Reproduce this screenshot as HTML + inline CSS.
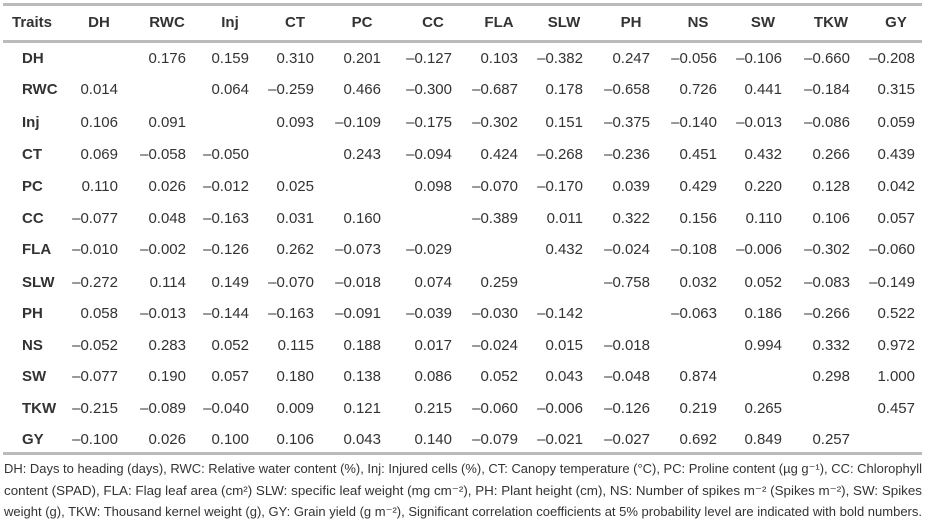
<!DOCTYPE html><html><head><meta charset="utf-8"><style>
html,body{margin:0;padding:0;background:#fff;width:927px;height:525px;overflow:hidden}
svg{display:block}
text{font-family:"Liberation Sans",Arial,sans-serif;fill:#333}
.h{font-weight:bold;font-size:15px;text-anchor:middle}
.r{font-weight:bold;font-size:15px}
.v{font-size:15px;text-anchor:end}
.f{font-size:13px}
</style></head><body>
<svg width="927" height="525" xmlns="http://www.w3.org/2000/svg">
<rect x="3" y="3" width="919" height="3" fill="#bbb"/>
<rect x="3" y="40" width="919" height="3" fill="#bbb"/>
<rect x="3" y="452" width="919" height="3" fill="#bbb"/>
<g id="t"></g>
<text class="f" x="4" y="473" textLength="918" lengthAdjust="spacingAndGlyphs">DH: Days to heading (days), RWC: Relative water content (%), Inj: Injured cells (%), CT: Canopy temperature (°C), PC: Proline content (µg g⁻¹), CC: Chlorophyll</text>
<text class="f" x="4" y="495" textLength="918" lengthAdjust="spacingAndGlyphs">content (SPAD), FLA: Flag leaf area (cm²) SLW: specific leaf weight (mg cm⁻²), PH: Plant height (cm), NS: Number of spikes m⁻² (Spikes m⁻²), SW: Spikes</text>
<text class="f" x="4" y="516" textLength="918" lengthAdjust="spacingAndGlyphs">weight (g), TKW: Thousand kernel weight (g), GY: Grain yield (g m⁻²), Significant correlation coefficients at 5% probability level are indicated with bold numbers.</text>
</svg>
<script>
var cols=["DH","RWC","Inj","CT","PC","CC","FLA","SLW","PH","NS","SW","TKW","GY"];
var R=[118,186,249,314,381,452,518,583,650,717,782,850,915];
var Y=[58,89,122,154,186,218,249,282,313,345,376,408,439];
var d=[
"",".176",".159",".310",".201","-.127",".103","-.382",".247","-.056","-.106","-.660","-.208",
".014","",".064","-.259",".466","-.300","-.687",".178","-.658",".726",".441","-.184",".315",
".106",".091","",".093","-.109","-.175","-.302",".151","-.375","-.140","-.013","-.086",".059",
".069","-.058","-.050","",".243","-.094",".424","-.268","-.236",".451",".432",".266",".439",
".110",".026","-.012",".025","",".098","-.070","-.170",".039",".429",".220",".128",".042",
"-.077",".048","-.163",".031",".160","","-.389",".011",".322",".156",".110",".106",".057",
"-.010","-.002","-.126",".262","-.073","-.029","",".432","-.024","-.108","-.006","-.302","-.060",
"-.272",".114",".149","-.070","-.018",".074",".259","","-.758",".032",".052","-.083","-.149",
".058","-.013","-.144","-.163","-.091","-.039","-.030","-.142","","-.063",".186","-.266",".522",
"-.052",".283",".052",".115",".188",".017","-.024",".015","-.018","",".994",".332",".972",
"-.077",".190",".057",".180",".138",".086",".052",".043","-.048",".874","",".298","1.000",
"-.215","-.089","-.040",".009",".121",".215","-.060","-.006","-.126",".219",".265","",".457",
"-.100",".026",".100",".106",".043",".140","-.079","-.021","-.027",".692",".849",".257",""];
var s='<text class="r" x="12" y="27">Traits</text>';
for(var j=0;j<13;j++)s+='<text class="h" x="'+(R[j]-19)+'" y="27">'+cols[j]+'</text>';
for(var i=0;i<13;i++){s+='<text class="r" x="22" y="'+(Y[i]+5)+'">'+cols[i]+'</text>';
for(var j=0;j<13;j++){var v=d[i*13+j];if(!v)continue;
if(v!="1.000")v=v.charAt(0)=="-"?"\u20130"+v.slice(1):"0"+v;
s+='<text class="v" x="'+R[j]+'" y="'+(Y[i]+5)+'">'+v+'</text>';}}
document.getElementById("t").innerHTML=s;
</script>
</body></html>
